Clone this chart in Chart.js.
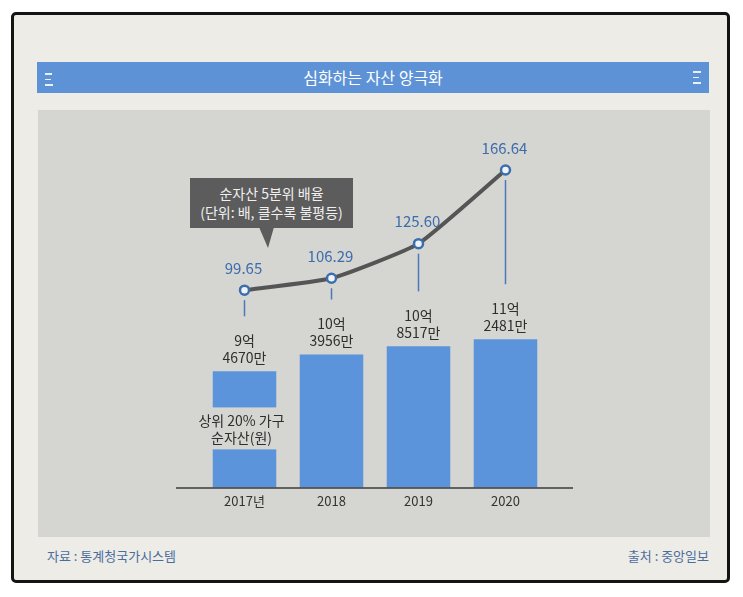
<!DOCTYPE html>
<html><head><meta charset="utf-8">
<script src="https://cdn.jsdelivr.net/npm/chart.js@4.4.0/dist/chart.umd.min.js"></script>
<style>
html,body{margin:0;padding:0;background:#ffffff;width:743px;height:597px;overflow:hidden;font-family:"Noto Sans CJK KR","Noto Sans",sans-serif;}
#frame{position:absolute;left:11px;top:12px;width:713px;height:565px;border:3px solid #141414;border-radius:5px;background:#edece7;}
#titlebar{position:absolute;left:37px;top:62px;width:672px;height:31px;background:#5d92d6;color:#fff;font-size:16px;line-height:30px;text-align:center;}
.ham{position:absolute;width:9px;}
.ham div{height:1.5px;background:#e8f0fa;margin-bottom:4px;}
#panel{position:absolute;left:38px;top:110px;width:672px;height:427px;background:#d5d5d2;}
.foot{position:absolute;top:547px;font-size:13px;color:#4b6c9d;line-height:18px;}
#callout{position:absolute;left:190px;top:178px;width:163px;height:50px;background:#5c5c5c;color:#f0f0f0;font-size:14px;line-height:19px;text-align:center;box-sizing:border-box;padding-top:6px;}
#tail{position:absolute;left:259px;top:227px;width:15px;height:21px;background:#5c5c5c;clip-path:polygon(0 0,100% 0,60% 100%);}
canvas{position:absolute;left:0;top:0;}
</style></head>
<body>
<div id="frame"></div>
<div id="titlebar">심화하는 자산 양극화</div>
<div class="ham" style="left:45px;top:73px;"><div style="width:7px"></div><div style="width:6px"></div><div style="width:8px"></div></div>
<div class="ham" style="left:693px;top:71px;"><div style="width:8px"></div><div style="width:6px"></div><div style="width:8px"></div></div>
<div id="panel"></div>
<div class="foot" style="left:47px;">자료 : 통계청국가시스템</div>
<div class="foot" style="right:34px;">출처 : 중앙일보</div>
<canvas id="c" width="743" height="597"></canvas>
<div id="callout">순자산 5분위 배율<br>(단위: 배, 클수록 불평등)</div>
<div id="tail"></div>
<script>
const categories = ['2017년', '2018', '2019', '2020'];
const assetValues = [9.4670, 10.3956, 10.8517, 11.2481]; // 억원
const assetLabels = [['9억', '4670만'], ['10억', '3956만'], ['10억', '8517만'], ['11억', '2481만']];
const ratioValues = [99.65, 106.29, 125.60, 166.64];
const ratioLabels = ['99.65', '106.29', '125.60', '166.64'];
const barNote = ['상위 20% 가구', '순자산(원)'];

const FONT = '"Noto Sans CJK KR", "Noto Sans", sans-serif';
const PANEL = '#d5d5d2';

const decor = {
  id: 'decor',
  afterDatasetsDraw(chart) {
    const ctx = chart.ctx;
    const ca = chart.chartArea;
    const barMeta = chart.getDatasetMeta(1);
    const lineMeta = chart.getDatasetMeta(0);
    ctx.save();
    // baseline
    ctx.strokeStyle = '#3a3a3a';
    ctx.lineWidth = 1.5;
    ctx.beginPath();
    ctx.moveTo(ca.left - 25, ca.bottom + 0.5);
    ctx.lineTo(ca.right + 24, ca.bottom + 0.5);
    ctx.stroke();
    // gap in first bar with note
    const b0 = barMeta.data[0];
    ctx.fillStyle = PANEL;
    ctx.fillRect(b0.x - b0.width / 2 - 1, ca.bottom - 80, b0.width + 2, 42);
    ctx.fillStyle = '#2e2e2e';
    ctx.font = '14px ' + FONT;
    ctx.textAlign = 'center';
    ctx.textBaseline = 'middle';
    ctx.fillText(barNote[0], b0.x - 3, ca.bottom - 67);
    ctx.fillText(barNote[1], b0.x - 3, ca.bottom - 50);
    // bar labels
    barMeta.data.forEach((bar, i) => {
      ctx.fillStyle = '#2e2e2e';
      ctx.fillText(assetLabels[i][0], bar.x, bar.y - 31);
      ctx.fillText(assetLabels[i][1], bar.x, bar.y - 14);
    });
    // drop lines
    ctx.strokeStyle = '#4a78b8';
    ctx.lineWidth = 1.5;
    lineMeta.data.forEach((pt, i) => {
      const bar = barMeta.data[i];
      ctx.beginPath();
      ctx.moveTo(pt.x, pt.y + 10);
      ctx.lineTo(pt.x, bar.y - 55);
      ctx.stroke();
    });
    // line labels
    ctx.fillStyle = '#3d6dac';
    ctx.font = '15px ' + FONT;
    lineMeta.data.forEach((pt, i) => {
      ctx.fillText(ratioLabels[i], pt.x - 1, pt.y - 22);
    });
    ctx.restore();
  }
};

new Chart(document.getElementById('c'), {
  type: 'bar',
  data: {
    labels: categories,
    datasets: [
      {
        type: 'line',
        data: ratioValues,
        yAxisID: 'yLine',
        borderColor: '#555555',
        borderWidth: 4,
        tension: 0.15,
        pointRadius: 4.5,
        pointBorderWidth: 2.5,
        pointBackgroundColor: '#eef3f8',
        pointBorderColor: '#3d6dac',
        order: 0
      },
      {
        type: 'bar',
        data: assetValues,
        yAxisID: 'yBar',
        backgroundColor: '#5b94da',
        borderWidth: 0,
        barPercentage: 0.73,
        categoryPercentage: 1,
        order: 1
      }
    ]
  },
  options: {
    responsive: false,
    animation: false,
    devicePixelRatio: 1,
    layout: { padding: { left: 201, right: 194, top: 130, bottom: 82 } },
    plugins: { legend: { display: false }, tooltip: { enabled: false } },
    scales: {
      x: {
        offset: true,
        grid: { display: false, drawTicks: false },
        border: { display: false },
        ticks: { color: '#333333', font: { family: FONT, size: 13 }, padding: 6 }
      },
      yBar: { type: 'linear', display: false, min: 3.01, max: 22.88 },
      yLine: { type: 'linear', display: false, min: -10.35, max: 188.98 }
    }
  },
  plugins: [decor]
});
</script>
</body></html>
